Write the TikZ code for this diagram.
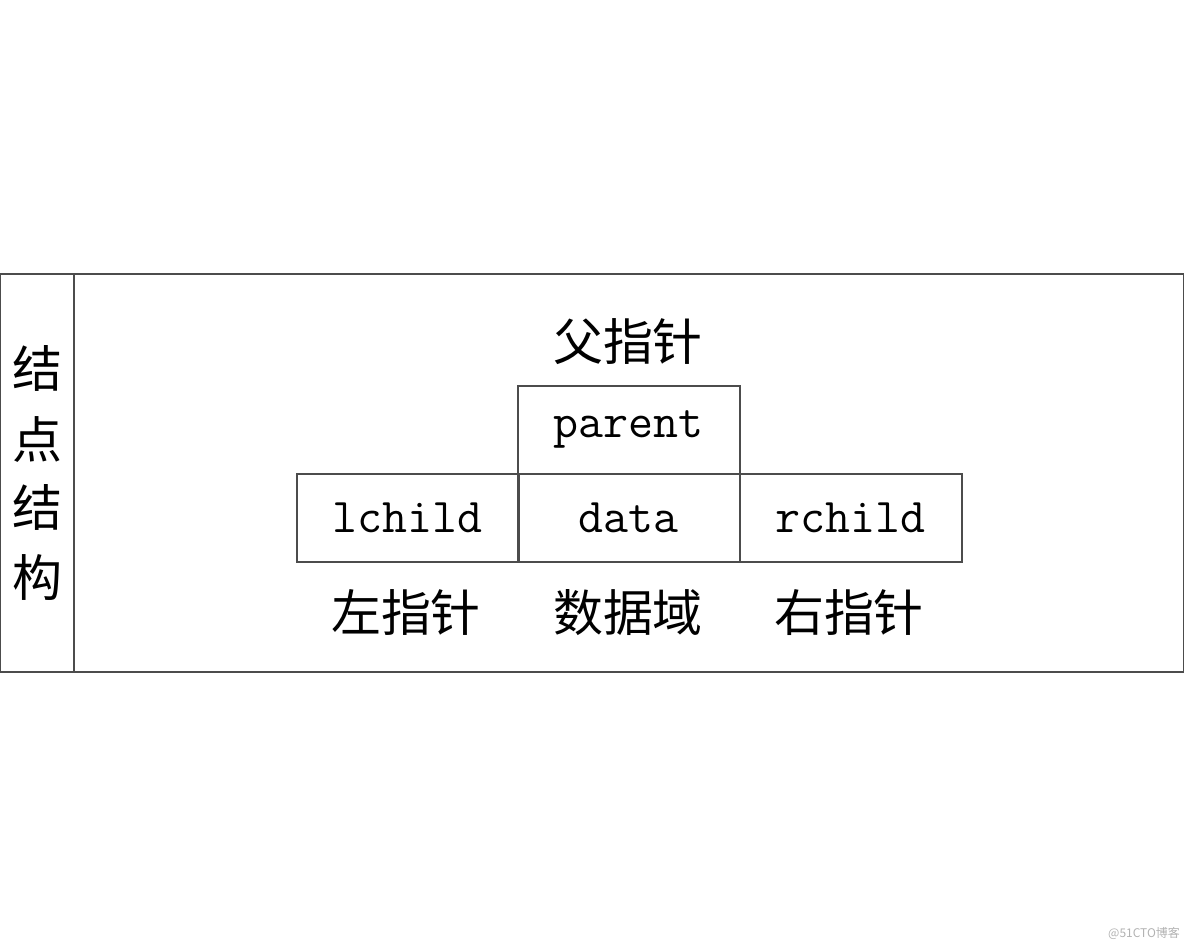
\documentclass[tikz,border=0pt]{standalone}
\usepackage{fontspec}
\newfontfamily\cjk{Noto Sans CJK SC}
\begin{document}
\begin{tikzpicture}[x=0.01cm,y=-0.01cm,
  frame/.style={draw=black!70,line width=0.45pt},
  cell/.style={frame,minimum width=2.22cm,minimum height=0.88cm,inner sep=0pt,anchor=north west,font=\ttfamily\fontsize{13.8}{16}\selectfont},
  zh/.style={font=\cjk\fontsize{14.2}{16}\selectfont,inner sep=0pt},
  wmark/.style={font=\cjk\fontsize{3.4}{4}\selectfont,text=black!30,inner sep=0pt}]
\useasboundingbox (0,0) rectangle (1184,947);
\draw[frame] (0.5,274) rectangle (1183.5,672);
\draw[frame] (74,274) -- (74,672);
\node[zh] (v1) at (37,368) {结};
\node[zh] (v2) at (37,439) {点};
\node[zh] (v3) at (37,507) {结};
\node[zh] (v4) at (37,578) {构};
\node[zh] (fp) at (628,342) {父指针};
\node[cell] (parent) at (517,385) {parent};
\node[cell] (lchild) at (296,473) {lchild};
\node[cell] (data) at (517,473) {data};
\node[cell] (rchild) at (739,473) {rchild};
\node[zh] (lp) at (406,613) {左指针};
\node[zh] (dd) at (628,613) {数据域};
\node[zh] (rp) at (849,613) {右指针};
\node[wmark] (wm) at (1144,933) {@51CTO博客};
\end{tikzpicture}
\end{document}
